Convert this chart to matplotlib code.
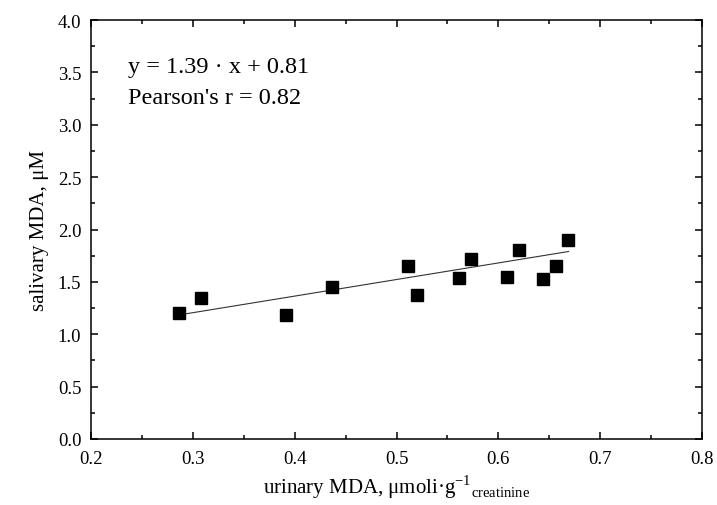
import numpy as np
import matplotlib
matplotlib.use("Agg")
import matplotlib.pyplot as plt
from matplotlib.ticker import MultipleLocator, FormatStrFormatter

plt.rcParams['font.family'] = ['Liberation Serif', 'DejaVu Serif']
plt.rcParams['mathtext.fontset'] = 'custom'
plt.rcParams['mathtext.rm'] = 'Liberation Serif'

urinary = [0.286, 0.308, 0.391, 0.437, 0.511, 0.520, 0.561, 0.573, 0.609, 0.620, 0.644, 0.657, 0.668]
salivary = [1.20, 1.35, 1.18, 1.45, 1.65, 1.37, 1.54, 1.72, 1.55, 1.80, 1.53, 1.65, 1.90]
fit_x = [0.290, 0.669]
fit_y = [1.19, 1.79]
eq_text = "y = 1.39 · x + 0.81"
r_text = "Pearson's r = 0.82"

fig = plt.figure(figsize=(7.17, 5.06), dpi=100)
ax = fig.add_axes([91/717, 1-440/506, (702-91)/717, (440-21)/506])

ax.plot(fit_x, fit_y, color='#333333', lw=0.8, zorder=2)
ax.plot(urinary, salivary, 's', color='black', markersize=8.5, zorder=3)

ax.set_xlim(0.2, 0.8)
ax.set_ylim(0.0, 4.0)
ax.xaxis.set_major_locator(MultipleLocator(0.1))
ax.xaxis.set_minor_locator(MultipleLocator(0.05))
ax.yaxis.set_major_locator(MultipleLocator(0.5))
ax.yaxis.set_minor_locator(MultipleLocator(0.25))
ax.xaxis.set_major_formatter(FormatStrFormatter('%.1f'))
ax.yaxis.set_major_formatter(FormatStrFormatter('%.1f'))
ax.tick_params(which='both', direction='in', top=True, right=True, labelsize=13.5, width=1.1)
ax.tick_params(which='major', length=5)
ax.tick_params(axis='x', which='major', pad=8)
ax.tick_params(axis='y', which='major', pad=7)
ax.tick_params(which='minor', length=3)
for s in ax.spines.values():
    s.set_linewidth(1.1)

ax.set_xlabel(r"urinary MDA, μmoli·g$^{\mathregular{-1}}$$_{\mathregular{creatinine}}$", fontsize=15, labelpad=4)
ax.set_ylabel("salivary MDA, μM", fontsize=15, labelpad=6)

ax.text(128/717, 1-68/506, eq_text, transform=fig.transFigure, fontsize=17.5, va='center', ha='left')
ax.text(128/717, 1-98/506, r_text, transform=fig.transFigure, fontsize=17.5, va='center', ha='left')

fig.savefig("out.png", dpi=100)
